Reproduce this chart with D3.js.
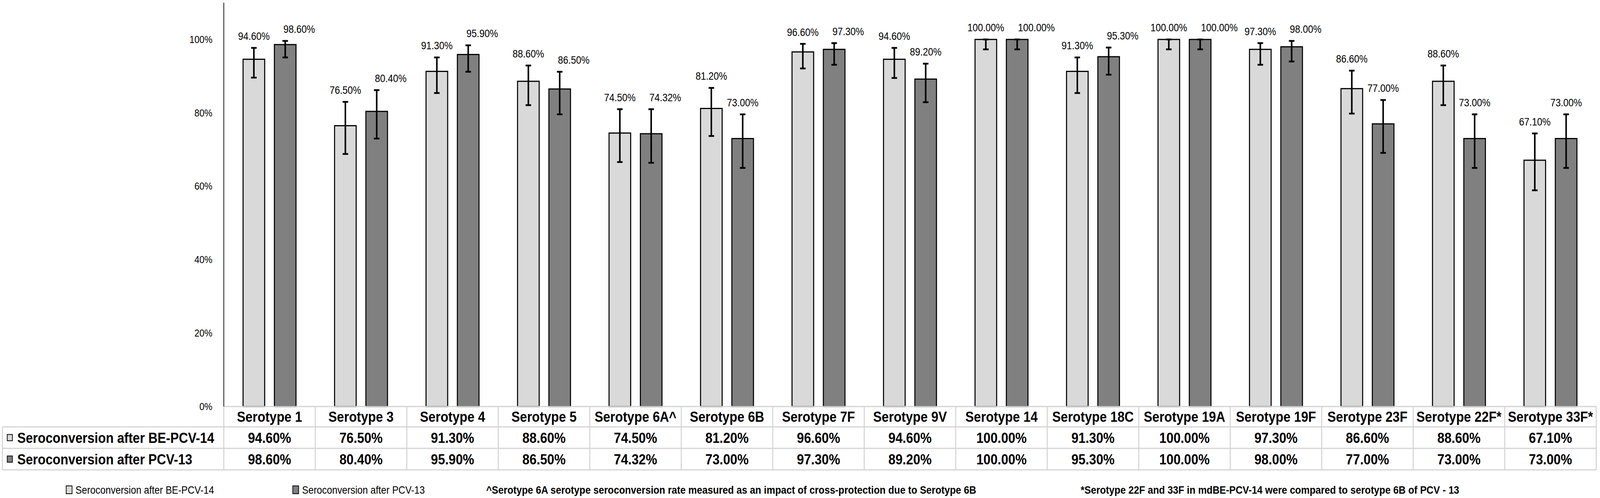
<!DOCTYPE html>
<html>
<head>
<meta charset="utf-8">
<script src="https://cdn.jsdelivr.net/npm/d3@7"></script>
<style>
  html, body { margin: 0; padding: 0; background: #fff; overflow: hidden; }
  svg { display: block; width: 100vw; height: 100vh; font-family: "Liberation Sans", Arial, sans-serif; }
</style>
</head>
<body>
<svg id="chart" viewBox="0 0 4640 1274" preserveAspectRatio="none"></svg>
<script>
// chart data
const categories = ['Serotype 1', 'Serotype 3', 'Serotype 4', 'Serotype 5', 'Serotype 6A^',
    'Serotype 6B', 'Serotype 7F', 'Serotype 9V', 'Serotype 14', 'Serotype 18C',
    'Serotype 19A', 'Serotype 19F', 'Serotype 23F', 'Serotype 22F*', 'Serotype 33F*'];

const seriesNames = ['Seroconversion after BE-PCV-14', 'Seroconversion after PCV-13'];

const bePcv14 = [94.6, 76.5, 91.3, 88.6, 74.5, 81.2, 96.6, 94.6, 100, 91.3, 100, 97.3, 86.6, 88.6, 67.1];
const pcv13 = [98.6, 80.4, 95.9, 86.5, 74.32, 73.0, 97.3, 89.2, 100, 95.3, 100, 98.0, 77.0, 73.0, 73.0];

// 95% CI bounds (estimated from the error bars)
const bePcv14Low = [89.6, 68.8, 85.4, 82.1, 66.6, 73.7, 92.1, 89.5, 97.3, 85.4, 97.3, 93.1, 79.8, 82.1, 58.9];
const bePcv14High = [97.7, 83.0, 95.1, 92.9, 81.0, 86.8, 98.8, 97.7, 100, 95.1, 100, 99.0, 91.5, 92.9, 74.4];
const pcv13Low = [95.1, 73.0, 91.2, 79.6, 66.4, 65.0, 93.1, 82.9, 97.3, 90.4, 97.3, 94.0, 69.1, 65.0, 65.0];
const pcv13High = [99.6, 86.2, 98.4, 91.2, 81.0, 79.6, 99.0, 93.4, 100, 97.8, 100, 99.6, 83.5, 79.6, 79.6];

const yTicks = [0, 20, 40, 60, 80, 100];

const footnotes = [
    '^Serotype 6A serotype seroconversion rate measured as an impact of cross-protection due to Serotype 6B',
    '*Serotype 22F and 33F in mdBE-PCV-14 were compared to serotype 6B of PCV - 13',
];

const colors = ['#d9d9d9', '#808080'];

// layout
const plot = { left: 649, right: 4629, top: 7, bottom: 1040 };
const table = { left: 7, rowH: 55, headH: 52 };
const gridColor = '#d4d4d4';

const svg = d3.select('#chart');

const x0 = d3.scaleBand()
    .domain(categories)
    .range([plot.left, plot.right]);

const x1 = d3.scaleBand()
    .domain([0, 1])
    .range([0, x0.bandwidth()])
    .paddingInner(0.31)
    .paddingOuter(0.615);

const y = d3.scaleLinear()
    .domain([0, 110])
    .range([plot.bottom, plot.top]);

const fmt = (v) => v.toFixed(2) + '%';

const rows = categories.map((c, i) => ({
    cat: c,
    vals: [
        { s: 0, v: bePcv14[i], lo: bePcv14Low[i], hi: bePcv14High[i] },
        { s: 1, v: pcv13[i], lo: pcv13Low[i], hi: pcv13High[i] },
    ],
}));

// y axis
const yAxis = d3.axisLeft(y)
    .tickValues(yTicks)
    .tickSize(0)
    .tickPadding(33)
    .tickFormat((d) => d + '%');

const ya = svg.append('g')
    .attr('transform', `translate(${plot.left},0)`)
    .call(yAxis);
ya.select('.domain').remove();
ya.selectAll('text')
    .attr('font-size', 26)
    .attr('fill', '#000')
    .attr('font-family', '"Liberation Sans", Arial, sans-serif');

// bars
const groups = svg.selectAll('g.cat')
    .data(rows)
    .enter()
    .append('g')
    .attr('class', 'cat')
    .attr('transform', (d) => `translate(${x0(d.cat)},0)`);

groups.selectAll('rect')
    .data((d) => d.vals)
    .enter()
    .append('rect')
    .attr('x', (d) => x1(d.s))
    .attr('y', (d) => y(d.v))
    .attr('width', x1.bandwidth())
    .attr('height', (d) => y(0) - y(d.v))
    .attr('fill', (d) => colors[d.s])
    .attr('stroke', '#000')
    .attr('stroke-width', 3);

// error bars
const capW = 16;
const err = groups.selectAll('g.err')
    .data((d) => d.vals)
    .enter()
    .append('g')
    .attr('class', 'err')
    .attr('stroke', '#000')
    .attr('stroke-width', 4.5);

err.append('line')
    .attr('x1', (d) => x1(d.s) + x1.bandwidth() / 2)
    .attr('x2', (d) => x1(d.s) + x1.bandwidth() / 2)
    .attr('y1', (d) => y(d.lo))
    .attr('y2', (d) => y(d.hi));

['lo', 'hi'].forEach((k) => {
    err.append('line')
        .attr('x1', (d) => x1(d.s) + x1.bandwidth() / 2 - capW / 2)
        .attr('x2', (d) => x1(d.s) + x1.bandwidth() / 2 + capW / 2)
        .attr('y1', (d) => y(d[k]))
        .attr('y2', (d) => y(d[k]));
});

// data labels, centred over each bar; a second label that would collide with
// the first one in its group is nudged to the right
const labelFont = 27;
const labelGap = 40;
groups.each(function placeLabels(d) {
    const g = d3.select(this);
    const boxes = [];
    d.vals.forEach((v) => {
        const t = g.append('text')
            .attr('class', 'lbl')
            .attr('x', x1(v.s) + x1.bandwidth() / 2)
            .attr('y', y(v.hi) - 30)
            .attr('dy', '0.35em')
            .attr('text-anchor', 'middle')
            .attr('font-size', labelFont)
            .text(fmt(v.v));
        let b = t.node().getBBox();
        boxes.forEach((o) => {
            const overlapY = b.y < o.y + o.height + 4 && o.y < b.y + b.height + 4;
            const push = o.x + o.width + labelGap - b.x;
            if (overlapY && push > 0) {
                t.attr('x', +t.attr('x') + push);
                b = t.node().getBBox();
            }
        });
        boxes.push(b);
    });
});

// data table
const tbl = svg.append('g').attr('class', 'table');
const headTop = plot.bottom;
const row1Top = headTop + table.headH;
const row2Top = row1Top + table.rowH;
const tblBottom = row2Top + table.rowH;

const hLines = [
    { x1: plot.left, x2: plot.right, yy: headTop },
    { x1: table.left, x2: plot.right, yy: row1Top },
    { x1: table.left, x2: plot.right, yy: row2Top },
    { x1: table.left, x2: plot.right, yy: tblBottom },
];
tbl.selectAll('line.h')
    .data(hLines)
    .enter()
    .append('line')
    .attr('x1', (d) => d.x1)
    .attr('x2', (d) => d.x2)
    .attr('y1', (d) => d.yy)
    .attr('y2', (d) => d.yy)
    .attr('stroke', gridColor)
    .attr('stroke-width', 3);

const colEdges = categories.map((c) => x0(c)).concat([plot.right]);
tbl.selectAll('line.v')
    .data(colEdges)
    .enter()
    .append('line')
    .attr('x1', (d) => d)
    .attr('x2', (d) => d)
    .attr('y1', headTop)
    .attr('y2', tblBottom)
    .attr('stroke', gridColor)
    .attr('stroke-width', 3);

tbl.append('line')
    .attr('x1', table.left).attr('x2', table.left)
    .attr('y1', row1Top).attr('y2', tblBottom)
    .attr('stroke', gridColor)
    .attr('stroke-width', 3);

// value axis line drawn over the grid
svg.append('line')
    .attr('x1', plot.left).attr('x2', plot.left)
    .attr('y1', plot.top).attr('y2', plot.bottom)
    .attr('stroke', '#000')
    .attr('stroke-width', 2);

const cellFont = 37;

tbl.selectAll('text.head')
    .data(categories)
    .enter()
    .append('text')
    .attr('x', (d) => x0(d) + x0.bandwidth() / 2)
    .attr('y', headTop + table.headH / 2)
    .attr('dy', '0.36em')
    .attr('text-anchor', 'middle')
    .attr('font-size', cellFont)
    .attr('font-weight', 'bold')
    .text((d) => d);

const valueRows = [bePcv14, pcv13];
valueRows.forEach((vals, r) => {
    const top = r === 0 ? row1Top : row2Top;
    const cy = top + table.rowH / 2;

    tbl.append('rect')
        .attr('x', 21)
        .attr('y', cy - 8)
        .attr('width', 15)
        .attr('height', 16)
        .attr('fill', colors[r])
        .attr('stroke', '#000')
        .attr('stroke-width', 2);

    tbl.append('text')
        .attr('x', 50)
        .attr('y', cy)
        .attr('dy', '0.36em')
        .attr('font-size', cellFont)
        .attr('font-weight', 'bold')
        .text(seriesNames[r]);

    tbl.selectAll(`text.v${r}`)
        .data(vals)
        .enter()
        .append('text')
        .attr('x', (d, i) => x0(categories[i]) + x0.bandwidth() / 2)
        .attr('y', cy)
        .attr('dy', '0.36em')
        .attr('text-anchor', 'middle')
        .attr('font-size', cellFont)
        .attr('font-weight', 'bold')
        .text((d) => fmt(d));
});

// legend
const legendY = 1253;
const legendX = [192, 849];
const legend = svg.append('g').attr('class', 'legend');
seriesNames.forEach((name, i) => {
    legend.append('rect')
        .attr('x', legendX[i])
        .attr('y', legendY - 10)
        .attr('width', 17)
        .attr('height', 20)
        .attr('fill', colors[i])
        .attr('stroke', '#000')
        .attr('stroke-width', 2);
    legend.append('text')
        .attr('x', legendX[i] + 27)
        .attr('y', legendY)
        .attr('dy', '0.36em')
        .attr('font-size', 27.5)
        .text(name);
});

// footnotes
const footX = [1410, 3134];
svg.selectAll('text.foot')
    .data(footnotes)
    .enter()
    .append('text')
    .attr('x', (d, i) => footX[i])
    .attr('y', legendY)
    .attr('dy', '0.36em')
    .attr('font-size', 28)
    .attr('font-weight', 'bold')
    .text((d) => d);
</script>
</body>
</html>
